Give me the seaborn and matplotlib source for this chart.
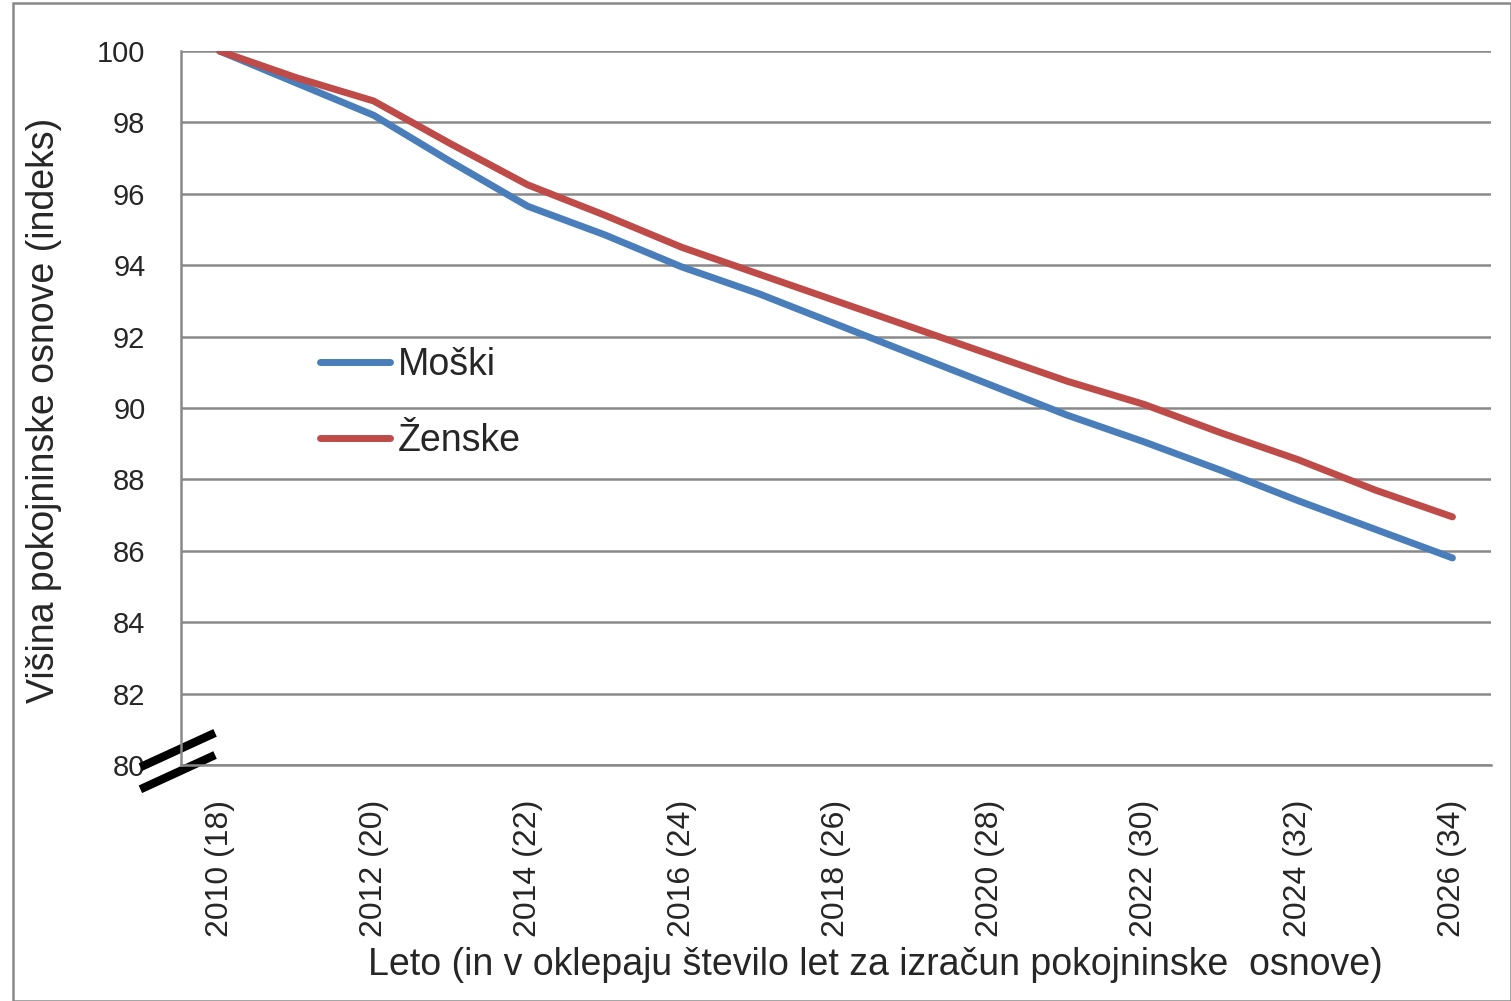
import matplotlib
matplotlib.use('Agg')
import matplotlib.pyplot as plt
import numpy as np
import pandas as pd
import seaborn as sns
from matplotlib.patches import Rectangle
from matplotlib.lines import Line2D

# podatki (odčitani s slike)
leta = list(range(2010, 2027))
moski = [100.0, 99.1, 98.2, 96.9, 95.65, 94.85, 93.95, 93.2, 92.35, 91.5,
         90.65, 89.8, 89.05, 88.25, 87.4, 86.6, 85.8]
zenske = [100.0, 99.25, 98.6, 97.4, 96.25, 95.4, 94.5, 93.75, 93.0, 92.25,
          91.5, 90.75, 90.1, 89.3, 88.55, 87.7, 86.95]
oznake = [f'{l} ({18 + (l - 2010)})' for l in leta[::2]]

df = pd.DataFrame({
    'idx': list(range(len(leta))) * 2,
    'vrednost': moski + zenske,
    'spol': ['Moški'] * len(leta) + ['Ženske'] * len(leta),
})

sns.set_style('white')
plt.rcParams['font.family'] = ['Liberation Sans', 'DejaVu Sans']

fig = plt.figure(figsize=(15.11, 10.01), dpi=100)
ax = fig.add_axes([181 / 1511, 1 - 765 / 1001, 1310 / 1511, 714 / 1001])

barve = {'Moški': '#4A7EBB', 'Ženske': '#BE4B48'}
sns.lineplot(data=df, x='idx', y='vrednost', hue='spol', palette=barve,
             linewidth=5, ax=ax, legend=False, solid_capstyle='round')

ax.set_xlim(-0.5, len(leta) - 0.5)
ax.set_ylim(80, 100)
ax.set_yticks(np.arange(80, 101, 2))
ax.tick_params(axis='y', labelsize=21, length=8.6, width=1.5, color='#898989', pad=17)
ax.yaxis.grid(True, color='#898989', linewidth=1.8)
ax.set_axisbelow(True)

# kategorije: oznake na vsakem drugem letu, črtice med kategorijami
ax.set_xticks(range(0, len(leta), 2))
ax.set_xticklabels(oznake, rotation=90, fontsize=23)
ax.set_xticks(np.arange(0.5, len(leta), 1), minor=True)
ax.tick_params(axis='x', which='major', length=0, pad=25)
ax.tick_params(axis='x', which='minor', length=8.6, width=1.5, color='#898989')

for s in ['top', 'right']:
    ax.spines[s].set_visible(False)
for s in ['left', 'bottom']:
    ax.spines[s].set_color('#898989')
    ax.spines[s].set_linewidth(1.8)

ax.set_xlabel('')
ax.set_ylabel('Višina pokojninske osnove (indeks)', fontsize=27)
ax.yaxis.set_label_coords(-0.091, 0.497)
fig.text(875 / 1511, 1 - 965 / 1001,
         'Leto (in v oklepaju število let za izračun pokojninske  osnove)',
         ha='center', va='center', fontsize=27)

# legenda
rocaji = [Line2D([0], [0], color=barve[k], linewidth=5, solid_capstyle='round')
          for k in barve]
ax.legend(rocaji, list(barve), loc='upper left', bbox_to_anchor=(0.106, 0.585),
          frameon=False, fontsize=27, handlelength=1.87, handletextpad=0.2,
          labelspacing=1.05, borderpad=0, borderaxespad=0)

# oznaka prekinjene osi
for dy in (0.0, -0.031):
    ax.plot([-0.031, 0.026], [-0.003 + dy, 0.045 + dy], transform=ax.transAxes,
            color='black', linewidth=6, clip_on=False, solid_capstyle='butt')

# okvir slike
fig.patches.append(Rectangle((13 / 1511, 0), 1 - 13 / 1511, 1 - 3 / 1001,
                             transform=fig.transFigure, fill=False,
                             edgecolor='#898989', linewidth=1.8))

fig.savefig('out.png', dpi=100)
